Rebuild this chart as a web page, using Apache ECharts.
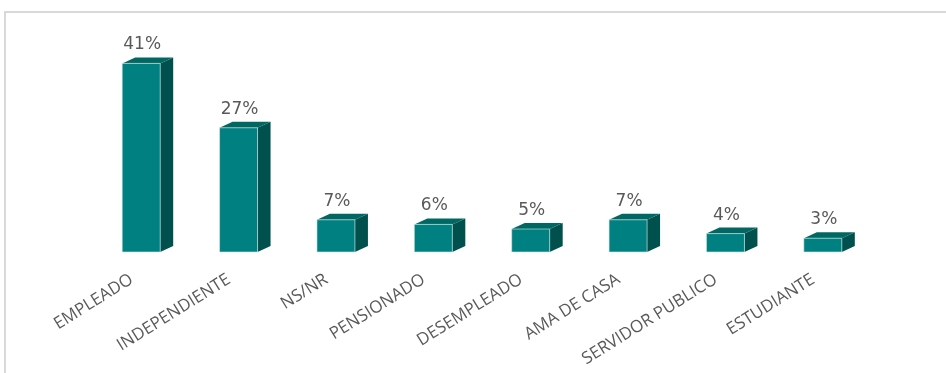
<!DOCTYPE html>
<html>
<head>
<meta charset="utf-8">
<script src="https://cdn.jsdelivr.net/npm/echarts@6/dist/echarts.min.js"></script>
<style>
  html, body { margin: 0; padding: 0; background: #fff; }
  #chart { width: 946px; height: 373px; }
</style>
</head>
<body>
<div id="chart"></div>
<script>
const categories = ['EMPLEADO', 'INDEPENDIENTE', 'NS/NR', 'PENSIONADO', 'DESEMPLEADO', 'AMA DE CASA', 'SERVIDOR PUBLICO', 'ESTUDIANTE'];
const values = [41, 27, 7, 6, 5, 7, 4, 3];

// bar geometry (px)
const FRONT_W = 38;
const DEPTH_X = 13;
const DEPTH_Y = 6;

const myChart = echarts.init(document.getElementById('chart'));

function renderBar(params, api) {
	const idx = api.value(0);
	const val = api.value(1);
	const top = api.coord([idx, val]);
	const base = api.coord([idx, 0]);
	const x0 = top[0] - (FRONT_W + DEPTH_X) / 2;
	const x1 = x0 + FRONT_W;
	const yTop = top[1];
	const yBot = base[1];
	return {
		type: 'group',
		children: [
			{
				type: 'polygon',
				shape: {points: [[x1, yTop], [x1 + DEPTH_X, yTop - DEPTH_Y], [x1 + DEPTH_X, yBot - DEPTH_Y], [x1, yBot]]},
				style: {fill: '#00514e'}
			},
			{
				type: 'polygon',
				shape: {points: [[x0, yTop], [x0 + DEPTH_X, yTop - DEPTH_Y], [x1 + DEPTH_X, yTop - DEPTH_Y], [x1, yTop]]},
				style: {fill: '#006763'}
			},
			{
				type: 'rect',
				shape: {x: x0, y: yTop, width: FRONT_W, height: yBot - yTop},
				style: {fill: '#008080', stroke: '#d6ecea', lineWidth: 0.6}
			},
			{
				type: 'text',
				x: x0 + FRONT_W / 2 + 1,
				y: yTop - DEPTH_Y - 4,
				style: {
					text: val + '%',
					fill: '#595959',
					font: '17px "DejaVu Sans"',
					align: 'center',
					verticalAlign: 'bottom'
				}
			}
		]
	};
}

myChart.setOption({
	animation: false,
	grid: {
		left: 99,
		right: 68,
		top: 45,
		bottom: 121
	},
	xAxis: {
		type: 'category',
		data: categories,
		axisTick: {show: false},
		axisLine: {show: false},
		axisLabel: {
			rotate: 32,
			interval: 0,
			margin: 16,
			padding: [0, 19, 0, 0],
			color: '#595959',
			fontSize: 17,
			fontFamily: 'Open Sans'
		}
	},
	yAxis: {
		type: 'value',
		min: 0,
		max: 45,
		show: false
	},
	graphic: [
		{
			type: 'polyline',
			shape: {points: [[946, 12], [5, 12], [5, 373]]},
			style: {stroke: '#d9d9d9', lineWidth: 2, fill: null},
			silent: true
		}
	],
	series: [
		{
			type: 'custom',
			renderItem: renderBar,
			encode: {x: 0, y: 1},
			data: values.map((v, i) => [i, v])
		}
	]
});
</script>
</body>
</html>
